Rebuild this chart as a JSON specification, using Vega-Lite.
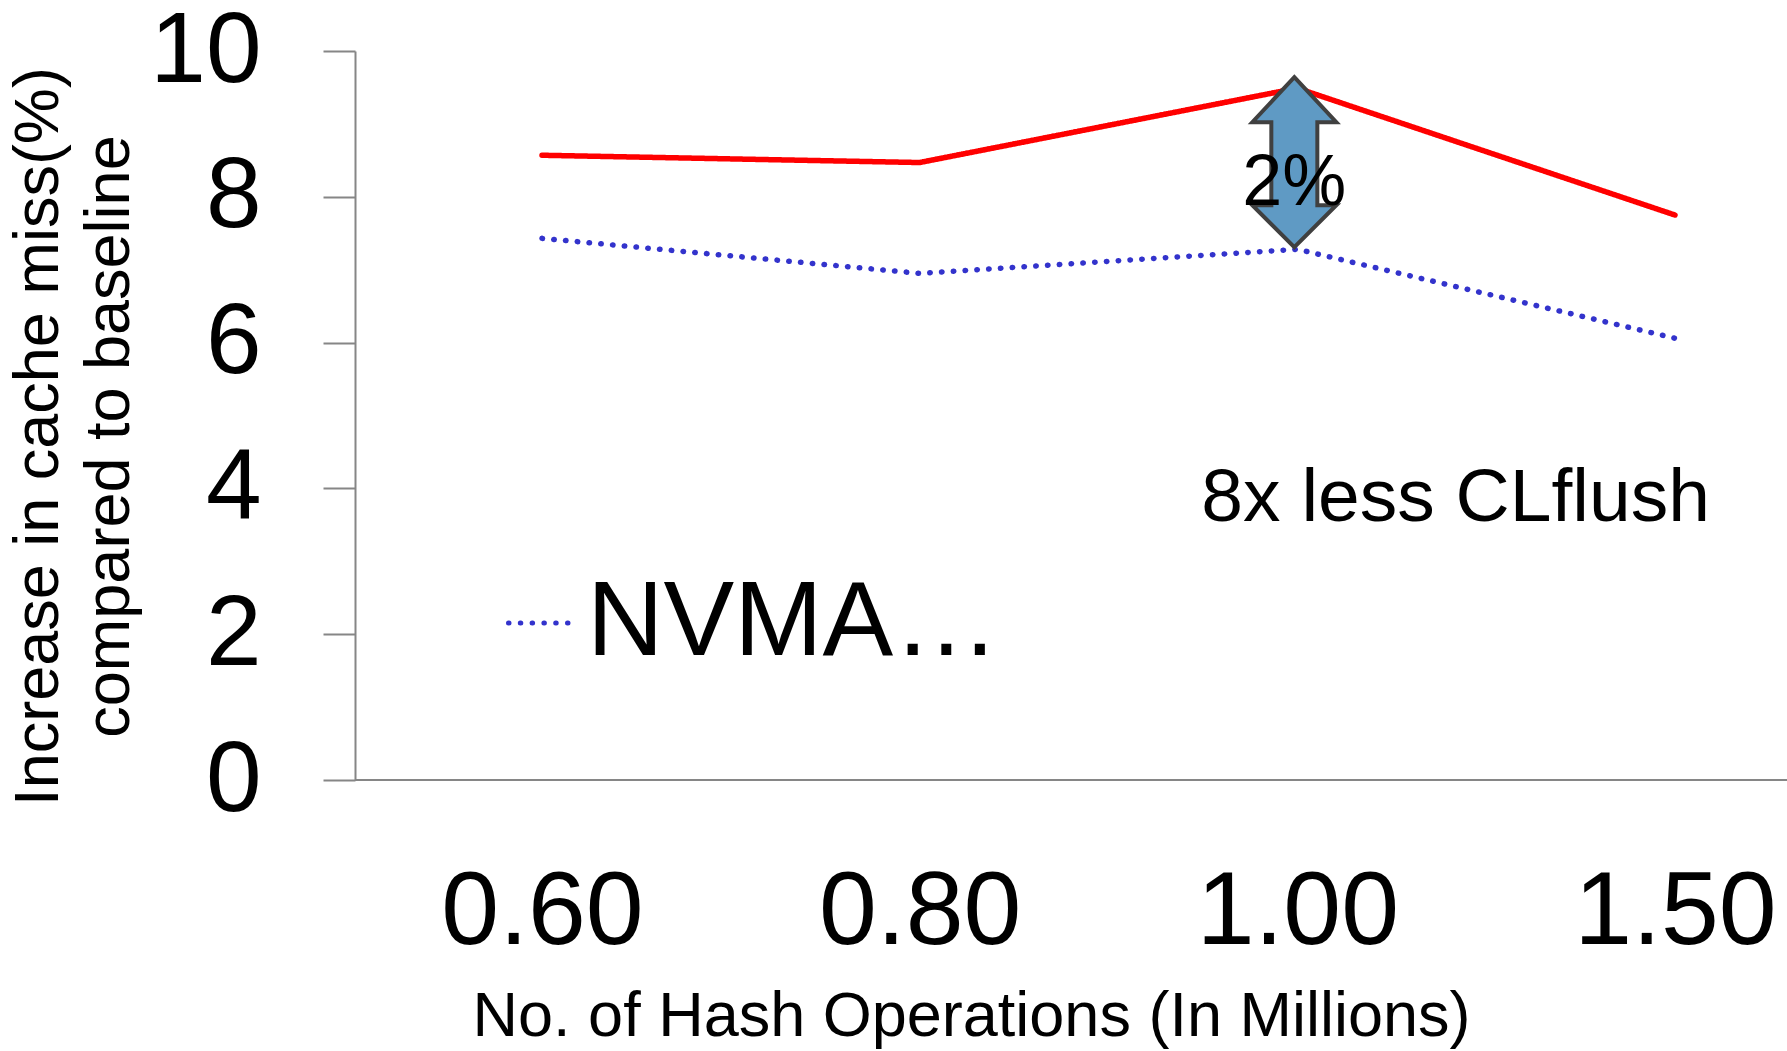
{
  "$schema": "https://vega.github.io/schema/vega-lite/v6.json",
  "width": 1432,
  "height": 729,
  "autosize": {"type": "none"},
  "padding": {"left": 355, "top": 51, "right": 0, "bottom": 271},
  "background": "white",
  "config": {
    "view": {"stroke": null},
    "font": "Liberation Sans",
    "legend": {"symbolStrokeWidth": 5, "symbolOpacity": 1}
  },
  "datasets": {
    "misses": [
      {"ops": "0.60", "series": "Per-write CLflush", "miss": 8.57},
      {"ops": "0.80", "series": "Per-write CLflush", "miss": 8.47},
      {"ops": "1.00", "series": "Per-write CLflush", "miss": 9.49},
      {"ops": "1.50", "series": "Per-write CLflush", "miss": 7.75},
      {"ops": "0.60", "series": "NVMA…", "miss": 7.43},
      {"ops": "0.80", "series": "NVMA…", "miss": 6.95},
      {"ops": "1.00", "series": "NVMA…", "miss": 7.28},
      {"ops": "1.50", "series": "NVMA…", "miss": 6.06}
    ],
    "baseline": [
      {"level": 0}
    ],
    "gap": [
      {"ops": "1.00", "mid": 8.475, "labelAt": 7.89, "label": "2%"}
    ],
    "note": [
      {"ops": "1.00", "at": 3.55, "text": "8x less CLflush"}
    ]
  },
  "encoding": {
    "x": {
      "field": "ops",
      "type": "ordinal",
      "sort": null,
      "scale": {"type": "point", "range": [187, 1320], "padding": 0},
      "axis": {
        "title": "No. of Hash Operations (In Millions)",
        "titleFontSize": 63,
        "titleFontWeight": "normal",
        "titleColor": "black",
        "titleX": 616,
        "titleY": 255,
        "titleAlign": "center",
        "titleBaseline": "alphabetic",
        "titleLimit": 2000,
        "labelFontSize": 104,
        "labelColor": "black",
        "labelAngle": 0,
        "labelBaseline": "alphabetic",
        "labelPadding": 163,
        "labelLimit": 600,
        "ticks": false,
        "tickSize": 0,
        "domain": false,
        "grid": false
      }
    }
  },
  "layer": [
    {
      "data": {"name": "baseline"},
      "mark": {"type": "rule", "color": "#868686", "strokeWidth": 2},
      "encoding": {
        "x": null,
        "y": {"field": "level", "type": "quantitative"}
      }
    },
    {
      "data": {"name": "misses"},
      "mark": {"type": "line", "strokeWidth": 5.5, "strokeCap": "round", "strokeJoin": "round"},
      "encoding": {
        "y": {
          "field": "miss",
          "type": "quantitative",
          "scale": {"domain": [0, 10], "nice": false, "zero": true},
          "axis": {
            "values": [0, 2, 4, 6, 8, 10],
            "format": "d",
            "grid": false,
            "domainColor": "#868686",
            "domainWidth": 2,
            "tickColor": "#868686",
            "tickWidth": 2,
            "tickSize": 32,
            "labelFontSize": 100,
            "labelColor": "black",
            "labelPadding": 62,
            "labelLimit": 600,
            "title": ["Increase in cache miss(%)", "compared to baseline"],
            "titleFontSize": 63,
            "titleFontWeight": "normal",
            "titleColor": "black",
            "titleLineHeight": 71,
            "titleAngle": -90,
            "titleAlign": "center",
            "titleBaseline": "alphabetic",
            "titleX": -298,
            "titleY": 385,
            "titleLimit": 2000
          }
        },
        "color": {
          "field": "series",
          "type": "nominal",
          "scale": {"domain": ["Per-write CLflush", "NVMA…"], "range": ["#FF0000", "#3333CC"]},
          "legend": {
            "orient": "none",
            "legendX": 134,
            "legendY": 519,
            "title": null,
            "values": ["NVMA…"],
            "symbolType": "stroke",
            "symbolSize": 4489,
            "symbolStrokeWidth": 5,
            "symbolOpacity": 1,
            "labelFontSize": 106,
            "labelColor": "black",
            "labelLimit": 0,
            "labelOffset": -8,
            "padding": 0,
            "encode": {
              "symbols": {
                "update": {
                  "stroke": {"value": "#3333CC"},
                  "strokeWidth": {"value": 5},
                  "strokeDash": {"value": [0.1, 12.3]},
                  "strokeCap": {"value": "round"},
                  "opacity": {"value": 1},
                  "strokeOpacity": {"value": 1}
                }
              }
            }
          }
        },
        "strokeDash": {
          "field": "series",
          "type": "nominal",
          "scale": {"domain": ["Per-write CLflush", "NVMA…"], "range": [[1, 0], [0.5, 11.3]]},
          "legend": null
        }
      }
    },
    {
      "data": {"name": "gap"},
      "mark": {
        "type": "point",
        "shape": "M-3,-85 L39,-40 L20,-40 L20,43 L39,43 L-3,85 L-45,43 L-26,43 L-26,-40 L-45,-40 Z",
        "size": 4,
        "filled": true,
        "fill": "#5f9ac4",
        "fillOpacity": 1,
        "opacity": 1,
        "stroke": "#404040",
        "strokeWidth": 4,
        "strokeJoin": "miter"
      },
      "encoding": {
        "y": {"field": "mid", "type": "quantitative"}
      }
    },
    {
      "data": {"name": "gap"},
      "mark": {"type": "text", "fontSize": 72, "align": "center", "baseline": "alphabetic", "dx": -3, "color": "black"},
      "encoding": {
        "y": {"field": "labelAt", "type": "quantitative"},
        "text": {"field": "label"}
      }
    },
    {
      "data": {"name": "note"},
      "mark": {"type": "text", "fontSize": 75, "align": "left", "baseline": "alphabetic", "dx": -96, "color": "black"},
      "encoding": {
        "y": {"field": "at", "type": "quantitative"},
        "text": {"field": "text"}
      }
    }
  ]
}
